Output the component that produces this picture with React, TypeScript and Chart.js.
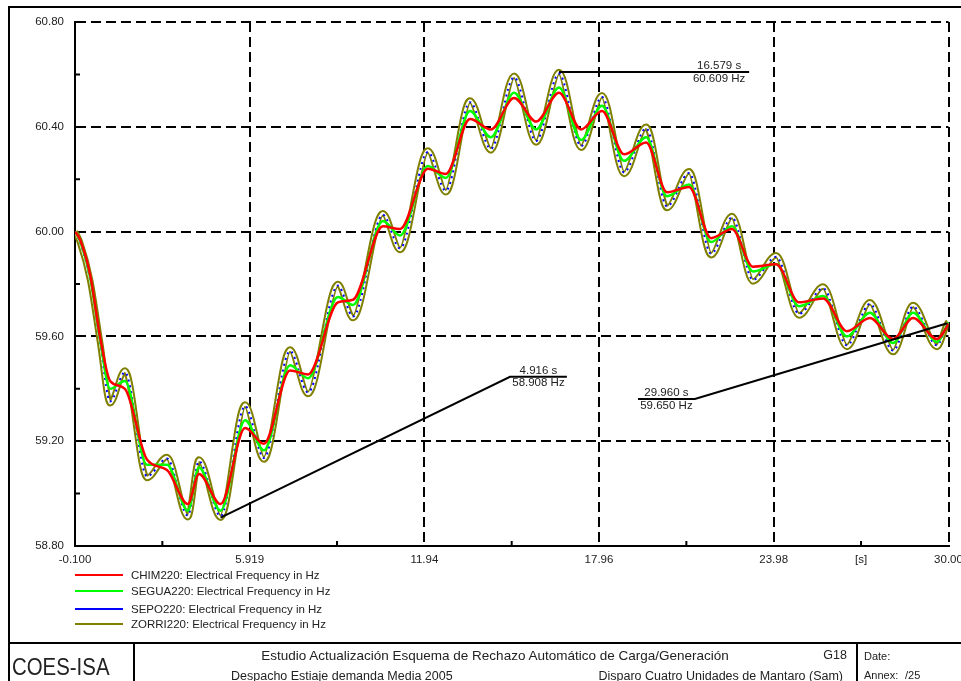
import React, { useEffect, useRef } from 'react';
import { Chart, registerables } from 'chart.js';

Chart.register(...registerables);

const FONT = "'Liberation Sans', Arial, Helvetica, sans-serif";

// Simulation time [s]
const timeS = [
  -0.1, 0.07, 0.42, 0.76, 1.11, 1.62, 2.38, 3.07, 3.79, 4.17, 4.916, 5.76, 6.41, 7.31, 7.93,
  8.96, 9.48, 10.51, 11.1, 12.06, 12.68, 13.51, 14.23, 15.03, 15.79, 16.579, 17.34, 18.06,
  18.82, 19.58, 20.3, 21.06, 21.82, 22.54, 23.26, 24.06, 24.85, 25.68, 26.5, 27.29, 28.09,
  28.78, 29.6, 29.96, 30.0,
];

// Bus frequencies [Hz]
const chim220Hz = [
  60.0, 59.97, 59.835, 59.6, 59.43, 59.4, 59.13, 59.09, 58.96, 59.075, 58.96, 59.25, 59.19,
  59.47, 59.455, 59.73, 59.74, 60.02, 60.01, 60.24, 60.22, 60.43, 60.39, 60.51, 60.42, 60.53,
  60.39, 60.46, 60.295, 60.34, 60.15, 60.17, 59.975, 60.01, 59.866, 59.875, 59.73, 59.745,
  59.62, 59.67, 59.59, 59.67, 59.59, 59.64, 59.65,
];
const segua220Hz = [
  60.0, 59.965, 59.825, 59.59, 59.4, 59.43, 59.11, 59.11, 58.935, 59.1, 58.935, 59.28, 59.165,
  59.49, 59.44, 59.75, 59.72, 60.04, 59.985, 60.25, 60.205, 60.46, 60.36, 60.53, 60.39, 60.55,
  60.35, 60.48, 60.27, 60.36, 60.135, 60.18, 59.96, 60.02, 59.848, 59.876, 59.715, 59.754,
  59.6, 59.69, 59.575, 59.69, 59.58, 59.645, 59.655,
];
const sepo220Hz = [
  60.0, 59.962, 59.818, 59.585, 59.352, 59.463, 59.066, 59.134, 58.916, 59.124, 58.914,
  59.334, 59.136, 59.544, 59.386, 59.794, 59.676, 60.064, 59.936, 60.304, 60.156, 60.494,
  60.316, 60.589, 60.346, 60.603, 60.326, 60.514, 60.226, 60.394, 60.096, 60.224, 59.916,
  60.054, 59.816, 59.904, 59.686, 59.784, 59.566, 59.724, 59.546, 59.714, 59.566, 59.648,
  59.655,
];
const zorri220Hz = [
  60.0, 59.96, 59.815, 59.58, 59.345, 59.47, 59.06, 59.14, 58.91, 59.13, 58.908, 59.34, 59.13,
  59.55, 59.38, 59.8, 59.67, 60.07, 59.93, 60.31, 60.15, 60.5, 60.31, 60.595, 60.34, 60.609,
  60.32, 60.52, 60.22, 60.4, 60.09, 60.23, 59.91, 60.06, 59.81, 59.91, 59.68, 59.79, 59.56,
  59.73, 59.54, 59.72, 59.56, 59.65, 59.655,
];

const seriesLabels = [
  'CHIM220: Electrical Frequency in Hz',
  'SEGUA220: Electrical Frequency in Hz',
  'SEPO220: Electrical Frequency in Hz',
  'ZORRI220: Electrical Frequency in Hz',
];
const seriesColors = ['#ff0000', '#00ff00', '#0000ff', '#808000'];

// Axis ticks
const xMajorTicks = [-0.1, 5.919, 11.938, 17.957, 23.976, 30.0];
const xMajorLabels = ['-0.100', '5.919', '11.94', '17.96', '23.98', '30.00'];
const xMinorTicks = [2.91, 8.929, 14.948, 20.967, 26.986];
const xMinorLabels = ['', '', '', '', '[s]'];
const yMajorTicks = [58.8, 59.2, 59.6, 60.0, 60.4, 60.8];
const yMajorLabels = ['58.80', '59.20', '59.60', '60.00', '60.40', '60.80'];
const yMinorTicks = [59.0, 59.4, 59.8, 60.2, 60.6];

// Marked points: time [s], frequency [Hz]
const markerTimes = [4.916, 16.579, 29.96];
const markerValues = [58.908, 60.609, 59.65];
// Where each marker's caption sits (from time, to time, level in Hz)
const captionFrom = [14.89, 21.06, 19.3];
const captionTo = [16.85, 23.13, 21.26];
const captionLevel = [59.446, 60.609, 59.361];

type TickDef = { value: number; label: string; major: boolean };

const xTickDefs: TickDef[] = [
  ...xMajorTicks.map((v, i) => ({ value: v, label: xMajorLabels[i], major: true })),
  ...xMinorTicks.map((v, i) => ({ value: v, label: xMinorLabels[i], major: false })),
].sort((a, b) => a.value - b.value);

const yTickDefs: TickDef[] = [
  ...yMajorTicks.map((v, i) => ({ value: v, label: yMajorLabels[i], major: true })),
  ...yMinorTicks.map((v) => ({ value: v, label: '', major: false })),
].sort((a, b) => a.value - b.value);

const TEXT = '#222';

const minorTickPlugin = {
  id: 'minorTicks',
  afterDraw(chart: any) {
    const { ctx, chartArea, scales } = chart;
    ctx.save();
    ctx.strokeStyle = '#000';
    ctx.lineWidth = 2;
    ctx.beginPath();
    yMinorTicks.forEach((v) => {
      const py = scales.y.getPixelForValue(v);
      ctx.moveTo(chartArea.left, py);
      ctx.lineTo(chartArea.left + 5, py);
    });
    xMinorTicks.forEach((v) => {
      const px = scales.x.getPixelForValue(v);
      ctx.moveTo(px, chartArea.bottom);
      ctx.lineTo(px, chartArea.bottom - 5);
    });
    ctx.stroke();
    ctx.restore();
  },
};

const markerPlugin = {
  id: 'markers',
  afterDraw(chart: any) {
    const { ctx, scales } = chart;
    const { x, y } = scales;
    ctx.save();
    ctx.strokeStyle = '#000';
    ctx.lineWidth = 2;
    ctx.font = `11.5px ${FONT}`;
    ctx.fillStyle = TEXT;
    ctx.textAlign = 'center';
    ctx.textBaseline = 'middle';
    markerTimes.forEach((t, i) => {
      const px = x.getPixelForValue(t);
      const py = y.getPixelForValue(markerValues[i]);
      const b0 = x.getPixelForValue(captionFrom[i]);
      const b1 = x.getPixelForValue(captionTo[i]);
      const by = y.getPixelForValue(captionLevel[i]);
      const near = Math.abs(px - b0) < Math.abs(px - b1) ? b0 : b1;
      const far = near === b0 ? b1 : b0;
      ctx.beginPath();
      ctx.moveTo(px, py);
      ctx.lineTo(near, by);
      ctx.lineTo(far, by);
      ctx.stroke();
      const cx = (b0 + b1) / 2;
      ctx.fillText(`${t.toFixed(3)} s`, cx, by - 6);
      ctx.fillText(`${markerValues[i].toFixed(3)} Hz`, cx, by + 6.5);
    });
    ctx.restore();
  },
};

function Txt(props: { x: number; y: number; size: number; children: React.ReactNode; anchor?: 'start' | 'middle' | 'end'; sx?: number }) {
  const { x, y, size, children, anchor = 'start', sx = 1 } = props;
  const tx = anchor === 'middle' ? '-50%' : anchor === 'end' ? '-100%' : '0';
  const origin = anchor === 'middle' ? 'center' : anchor === 'end' ? 'right' : 'left';
  return (
    <div
      style={{
        position: 'absolute',
        left: x,
        top: y - size,
        height: size * 2,
        lineHeight: `${size * 2}px`,
        fontSize: size,
        fontFamily: FONT,
        color: TEXT,
        whiteSpace: 'nowrap',
        transform: `translateX(${tx}) scaleX(${sx})`,
        transformOrigin: origin,
      }}
    >
      {children}
    </div>
  );
}

function Rule(props: { x: number; y: number; w: number; h: number }) {
  return (
    <div style={{ position: 'absolute', left: props.x, top: props.y, width: props.w, height: props.h, background: '#000' }} />
  );
}

export default function App() {
  const canvasRef = useRef<HTMLCanvasElement>(null);

  useEffect(() => {
    const canvas = canvasRef.current;
    if (!canvas) return;

    const lineDataset = (values: number[], color: string, width: number, label: string, dash: number[] = []) => ({
      label,
      data: timeS.map((t, i) => ({ x: t, y: values[i] })),
      borderColor: color,
      borderWidth: width,
      borderDash: dash,
      pointRadius: 0,
      fill: false,
      cubicInterpolationMode: 'monotone' as const,
      borderJoinStyle: 'round' as const,
    });

    const chart = new Chart(canvas, {
      type: 'line',
      data: {
        // the first dataset is painted last (on top)
        datasets: [
          lineDataset(chim220Hz, seriesColors[0], 2.5, seriesLabels[0]),
          lineDataset(segua220Hz, seriesColors[1], 2.5, seriesLabels[1]),
          lineDataset(sepo220Hz, seriesColors[2], 2, seriesLabels[2], [2, 4]),
          lineDataset(zorri220Hz, '#ffffff', 2.5, 'ZORRI220 core'),
          lineDataset(zorri220Hz, seriesColors[3], 6.5, seriesLabels[3]),
        ],
      },
      options: {
        animation: false,
        responsive: false,
        devicePixelRatio: 1,
        events: [],
        layout: { padding: { left: 15, right: 12.5, top: 22, bottom: 115 } },
        plugins: {
          legend: { display: false },
          tooltip: { enabled: false },
          title: { display: false },
        },
        scales: {
          x: {
            type: 'linear',
            min: -0.1,
            max: 30.0,
            afterBuildTicks: (s: any) => {
              s.ticks = xTickDefs.map((d) => ({ value: d.value }));
            },
            afterFit: (s: any) => {
              s.height = 20;
              s.paddingLeft = 0;
              s.paddingRight = 0;
            },
            grid: {
              color: (c: any) => (xTickDefs[c.index] && xTickDefs[c.index].major ? '#000' : 'rgba(0,0,0,0)'),
              lineWidth: 2,
              drawTicks: false,
            },
            border: { display: true, color: '#000', width: 2, dash: [10, 5] },
            ticks: {
              autoSkip: false,
              maxRotation: 0,
              padding: 7,
              color: TEXT,
              font: { family: FONT, size: 11.5 },
              callback: (_v: any, i: number) => xTickDefs[i].label,
            },
          },
          y: {
            type: 'linear',
            min: 58.8,
            max: 60.8,
            afterBuildTicks: (s: any) => {
              s.ticks = yTickDefs.map((d) => ({ value: d.value }));
            },
            afterFit: (s: any) => {
              s.width = 60;
              s.paddingTop = 0;
              s.paddingBottom = 0;
            },
            grid: {
              color: (c: any) => (yTickDefs[c.index] && yTickDefs[c.index].major ? '#000' : 'rgba(0,0,0,0)'),
              lineWidth: 2,
              drawTicks: false,
            },
            border: { display: true, color: '#000', width: 2, dash: [10, 5] },
            ticks: {
              autoSkip: false,
              padding: 11,
              color: TEXT,
              font: { family: FONT, size: 11.5 },
              callback: (_v: any, i: number) => yTickDefs[i].label,
            },
          },
        },
      },
      plugins: [minorTickPlugin, markerPlugin],
    });

    return () => chart.destroy();
  }, []);

  const legendY = [575, 591, 609, 624];

  return (
    <div
      style={{
        position: 'fixed',
        left: 0,
        top: 0,
        width: 961,
        height: 681,
        overflow: 'hidden',
        background: '#fff',
      }}
    >
      <canvas ref={canvasRef} width={961} height={681} style={{ position: 'absolute', left: 0, top: 0, width: 961, height: 681 }} />

      {/* page frame */}
      <Rule x={8} y={6} w={960} h={2} />
      <Rule x={8} y={6} w={2} h={680} />

      {/* legend */}
      {seriesLabels.map((label, i) => (
        <React.Fragment key={label}>
          <div style={{ position: 'absolute', left: 75, top: legendY[i] - 1, width: 48, height: 2, background: seriesColors[i] }} />
          <Txt x={131} y={legendY[i]} size={11.5}>{label}</Txt>
        </React.Fragment>
      ))}

      {/* title block */}
      <Rule x={8} y={642} w={960} h={2} />
      <Rule x={133} y={642} w={2} h={45} />
      <Rule x={856} y={642} w={2} h={45} />
      <Txt x={12} y={667} size={24} sx={0.85}>COES-ISA</Txt>
      <Txt x={495} y={655} size={13.5} anchor="middle">Estudio Actualización Esquema de Rechazo Automático de Carga/Generación</Txt>
      <Txt x={847} y={655} size={12.5} anchor="end">G18</Txt>
      <Txt x={231} y={676} size={12.5}>Despacho Estiaje demanda Media 2005</Txt>
      <Txt x={843} y={676} size={12.5} anchor="end">Disparo Cuatro Unidades de Mantaro (Sam)</Txt>
      <Txt x={864} y={656} size={11}>Date:</Txt>
      <Txt x={864} y={675} size={11}>Annex:</Txt>
      <Txt x={905} y={675} size={11}>/25</Txt>
    </div>
  );
}
